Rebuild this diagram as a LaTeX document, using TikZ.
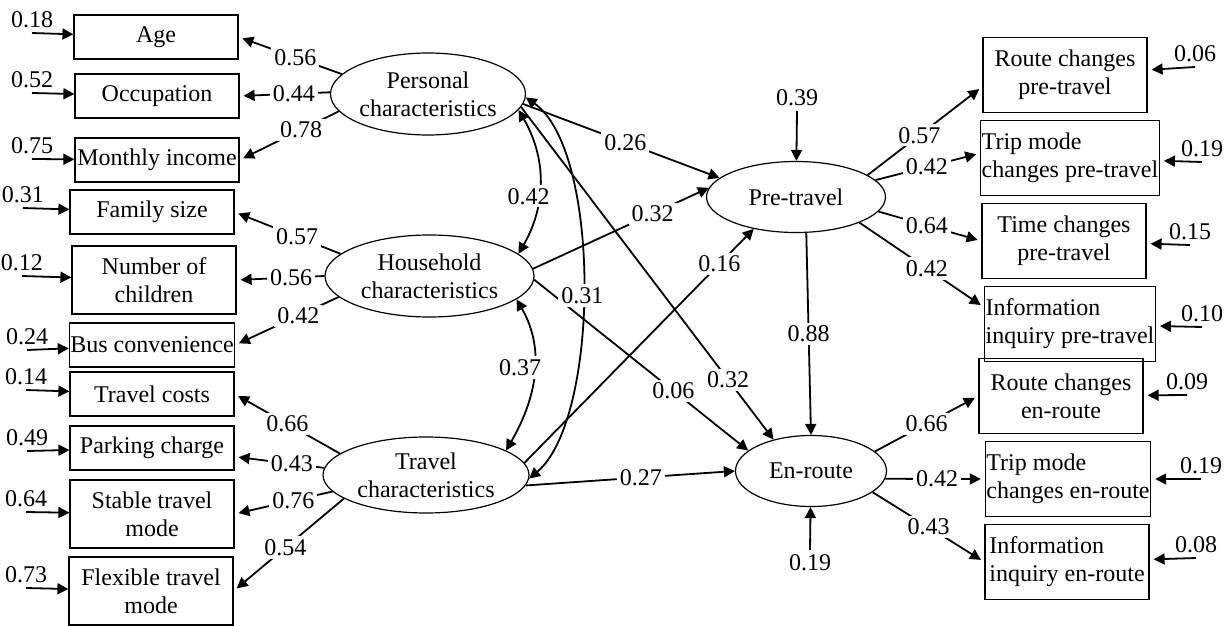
\documentclass[tikz,border=0pt]{standalone}
\usepackage{fontspec}
\setmainfont{Liberation Serif}
\usetikzlibrary{arrows.meta,shapes.geometric}
\begin{document}
\begin{tikzpicture}[x=0.5pt,y=-0.5pt,font=\fontsize{12}{14}\selectfont,line width=0.9pt,>={Triangle[length=5.5pt,width=5.5pt]},
box/.style={draw,line width=0.6pt,minimum width=82pt,minimum height=22pt,inner sep=0.5pt,align=center},
tall/.style={box,minimum height=34pt},
rbox/.style={box,minimum height=37.5pt},
lbox/.style={rbox,align=left},
lv/.style={draw,ellipse,line width=0.6pt,inner xsep=-2pt,inner ysep=0pt,align=center},
lbl/.style={fill=white,inner sep=1.5pt},
elab/.style={above,inner sep=2pt}]
\useasboundingbox (0,0) rectangle (1232,626);
\node[box] (age) at (156,37) {Age};
\node[box] (occ) at (157,96) {Occupation};
\node[box] (inc) at (157,160) {Monthly income};
\node[box] (fam) at (152,212) {Family size};
\node[tall] (chi) at (154,280) {Number of\\children};
\node[box] (bus) at (152,345) {Bus convenience};
\node[box] (cost) at (152,394) {Travel costs};
\node[box] (park) at (152,448) {Parking charge};
\node[tall] (stab) at (152,514) {Stable travel\\mode};
\node[tall] (flex) at (151,591) {Flexible travel\\mode};
\node[lv,minimum width=97.5pt,minimum height=41pt] (pers) at (428,94) {Personal\\characteristics};
\node[lv,minimum width=104.5pt,minimum height=41pt] (hh) at (429.5,276) {Household\\characteristics};
\node[lv,minimum width=103pt,minimum height=38pt] (trav) at (426,475) {Travel\\characteristics};
\node[lv,minimum width=89.5pt,minimum height=35.5pt] (pre) at (796,197) {Pre-travel};
\node[lv,minimum width=75.5pt,minimum height=35.5pt] (en) at (811,471) {En-route};
\node[rbox] (rcp) at (1065,75) {Route changes\\pre-travel};
\node[lbox] (tmp) at (1070,158) {Trip mode\\changes pre-travel};
\node[rbox] (tcp) at (1064,241) {Time changes\\pre-travel};
\node[lbox] (ipp) at (1070,324) {Information\\inquiry pre-travel};
\node[rbox] (rce) at (1061,396) {Route changes\\en-route};
\node[lbox] (tme) at (1068,479) {Trip mode\\changes en-route};
\node[lbox] (iie) at (1067,562) {Information\\inquiry en-route};
\coordinate (eage) at (32,33);
\coordinate (eocc) at (32,93);
\coordinate (einc) at (32,159);
\coordinate (efam) at (23,208);
\coordinate (echi) at (22,276);
\coordinate (ebus) at (27,350);
\coordinate (ecost) at (26,390);
\coordinate (epark) at (27,451);
\coordinate (estab) at (26,512);
\coordinate (eflex) at (26,588);
\coordinate (epre) at (797,111);
\coordinate (een) at (810,550);
\coordinate (ercp) at (1195,67);
\coordinate (etmp) at (1202,162);
\coordinate (etcp) at (1190,245);
\coordinate (eipp) at (1202,327);
\coordinate (erce) at (1187,395);
\coordinate (etme) at (1201,479);
\coordinate (eiie) at (1196,558);
\draw[->] (eage) node[elab]{0.18} -- (age);
\draw[->] (eocc) node[elab]{0.52} -- (occ);
\draw[->] (einc) node[elab]{0.75} -- (inc);
\draw[->] (efam) node[elab]{0.31} -- (fam);
\draw[->] (echi) node[elab]{0.12} -- (chi);
\draw[->] (ebus) node[elab]{0.24} -- (bus);
\draw[->] (ecost) node[elab]{0.14} -- (cost);
\draw[->] (epark) node[elab]{0.49} -- (park);
\draw[->] (estab) node[elab]{0.64} -- (stab);
\draw[->] (eflex) node[elab]{0.73} -- (flex);
\draw[->] (epre) node[elab]{0.39} -- (pre);
\draw[->] (een) node[below,inner sep=2pt]{0.19} -- (en);
\draw[->,shorten >=2pt] (ercp) node[elab]{0.06} -- (rcp);
\draw[->,shorten >=2pt] (etmp) node[elab]{0.19} -- (tmp);
\draw[->,shorten >=2pt] (etcp) node[elab]{0.15} -- (tcp);
\draw[->,shorten >=2pt] (eipp) node[elab]{0.10} -- (ipp);
\draw[->,shorten >=2pt] (erce) node[elab]{0.09} -- (rce);
\draw[->,shorten >=2pt] (etme) node[elab]{0.19} -- (tme);
\draw[->,shorten >=2pt] (eiie) node[elab]{0.08} -- (iie);
\draw[->,shorten >=2pt] (pers.167) -- node[lbl,pos=.45]{0.56} (age.east);
\draw[->,shorten >=2pt] (pers.179) -- node[lbl,pos=.4]{0.44} (occ.east);
\draw[->,shorten >=2pt] (pers.191) -- node[lbl,pos=.38]{0.78} (inc.east);
\draw[->,shorten >=2pt] (hh.166) -- node[lbl,pos=.41]{0.57} (fam.east);
\draw[->,shorten >=2pt] (hh.180) -- node[lbl,pos=.38]{0.56} (chi.east);
\draw[->,shorten >=2pt] (hh.193) -- node[lbl,pos=.39]{0.42} (bus.east);
\draw[->,shorten >=2pt] (trav.166) -- node[lbl,pos=.5]{0.66} (cost.east);
\draw[->,shorten >=2pt] (trav.176) -- node[lbl,pos=.36]{0.43} (park.354);
\draw[->,shorten >=2pt] (trav.190) -- node[lbl,pos=.4]{0.76} (stab.east);
\draw[->,shorten >=2pt] (trav.196) -- node[lbl,pos=.53]{0.54} (flex.east);
\draw[->,shorten >=2pt] (pre.17) -- node[lbl,pos=.45]{0.57} (rcp.188);
\draw[->,shorten >=2pt] (pre.12) -- node[lbl,pos=.49]{0.42} (tmp.177);
\draw[->,shorten >=2pt] (pre.350) -- node[lbl,pos=.47]{0.64} (tcp.west);
\draw[->,shorten >=2pt] (pre.338) -- node[lbl,pos=.54]{0.42} (ipp.169);
\draw[->,shorten >=2pt] (en.17) -- node[lbl,pos=.5]{0.66} (rce.west);
\draw[->,shorten >=2pt] (en.354) -- node[lbl,pos=.52]{0.42} (tme.west);
\draw[->,shorten >=2pt] (en.341) -- node[lbl,pos=.5]{0.43} (iie.west);
\draw[->] (pers.354) -- node[lbl,pos=.52]{0.26} (pre.166);
\draw[->] (hh.4) -- node[lbl,pos=.68]{0.32} (pre.174);
\draw[->] (trav.7) -- node[lbl,pos=.85]{0.16} (pre.217);
\draw[->] (trav.354) -- node[lbl,pos=.55]{0.27} (en.west);
\draw[->] (hh.358) -- node[lbl,pos=.65]{0.06} (en.162);
\draw[->] (pers.352) -- node[lbl,pos=.82]{0.32} (en.140);
\draw[->] (pre.286) -- node[lbl]{0.88} (en.north);
\draw[<->] (pers.350) to[out=-60,in=60] node[lbl,pos=.6,xshift=-5pt]{0.42} (hh.14);
\draw[<->] (hh.345) to[out=-60,in=60] node[lbl,pos=.45,xshift=-7pt]{0.37} (trav.17);
\draw[<->] (pers.358) to[out=-35,in=40,looseness=.62] node[lbl,pos=.52]{0.31} (trav.358);
\end{tikzpicture}
\end{document}
